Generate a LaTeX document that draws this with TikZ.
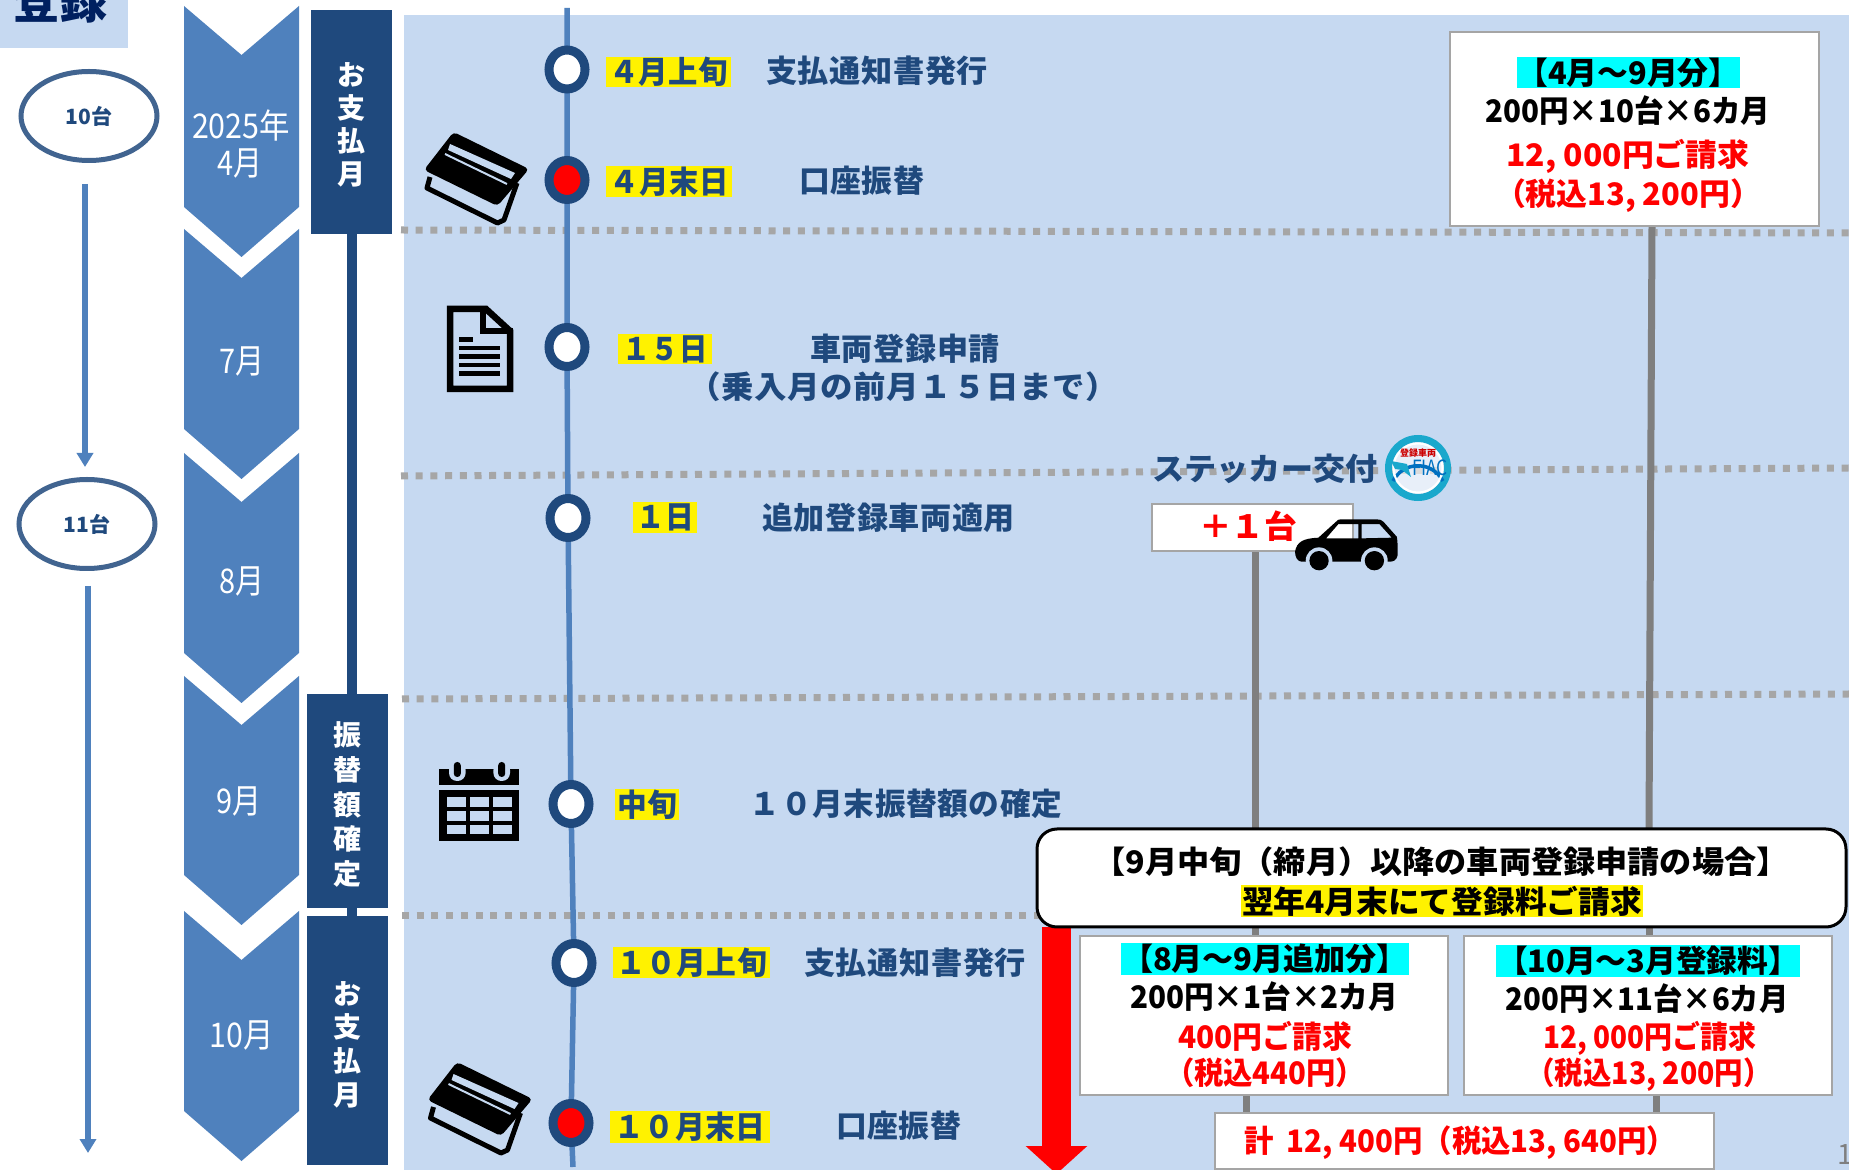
\documentclass[tikz,border=0pt]{standalone}
\usepackage{fontspec}
\setmainfont{Noto Sans CJK JP}
\newfontfamily\jpw[LetterSpace=2]{Noto Sans CJK JP}
\usetikzlibrary{shapes.geometric,arrows.meta,backgrounds}
\pgfdeclarelayer{back}\pgfdeclarelayer{mid}\pgfsetlayers{back,mid,main}
\definecolor{bgblue}{HTML}{C6D9F1}
\definecolor{navy}{HTML}{1F497D}
\definecolor{chev}{HTML}{4F81BD}
\definecolor{dkblue}{HTML}{002060}
\definecolor{dotg}{HTML}{A6A6A6}
\definecolor{stemg}{HTML}{7F7F7F}
\definecolor{aqua}{HTML}{00FFFF}
\definecolor{teal}{HTML}{1AA8CC}
\definecolor{fiac}{HTML}{0070C0}
\newcommand\fs[1]{\fontsize{#1}{#1}\selectfont}
\newcommand\fitw[2]{\resizebox{\dimexpr#1pt/2\relax}{\height}{#2}}
% chevron: #1 top side, #2 bottom side
\newcommand\chevron[2]{\fill[chev] (184,#1) -- (241.5,{#1+49}) -- (299,#1) -- (299,#2) -- (241.5,{#2+50}) -- (184,#2) -- cycle;}
% highlight: name x1 y1 x2 y2 fillcolour textwidth text
\newcommand\hlbox[8]{\node[hl,fill=#6,minimum width={(#4-#2)*0.5pt},minimum height={(#5-#3)*0.5pt}] (#1) at ({(#2+#4)/2},{(#3+#5)/2}) {\fitw{#7}{#8}};}
\tikzset{
 hl/.style={inner sep=0pt,outer sep=0pt,text=navy,font=\fs{15.5}\bfseries\jpw},
 txt/.style={inner sep=0pt,outer sep=0pt},
 nav/.style={inner sep=0pt,outer sep=0pt,text=navy,font=\fs{15.5}\bfseries\jpw},
 blk/.style={inner sep=0pt,outer sep=0pt,font=\fs{15.5}\bfseries},
 mon/.style={inner sep=0pt,outer sep=0pt,text=white,font=\fs{17}},
 vbox/.style={rectangle,fill=navy,inner sep=0pt,outer sep=0pt},
 vtext/.style={inner sep=0pt,outer sep=0pt,text=white,align=center},
 pt/.style={ellipse,draw=navy,line width=4.5pt,fill=white,minimum width=18pt,minimum height=19.5pt,inner sep=0pt,outer sep=0pt},
 ptred/.style={pt,fill=red},
 count/.style={ellipse,draw=navy!85!white,line width=2.5pt,fill=white,minimum width=68pt,minimum height=44.5pt,inner sep=0pt,outer sep=0pt,text=navy,font=\fs{10.5}\bfseries},
 wbox/.style={rectangle,draw=stemg!70!white,line width=1.25pt,fill=white,inner sep=0pt,outer sep=0pt},
 dots/.style={dotg,line width=3.5pt,dash pattern=on 3.5pt off 3.85pt},
 gline/.style={stemg,line width=3.5pt},
 tline/.style={chev,line width=2.75pt},
 stem/.style={navy,line width=5pt},
 flow/.style={chev,line width=3pt,-{Triangle[width=8pt,length=7pt]}},
 redarrow/.style={red,line width=14.5pt,-{Triangle[width=30pt,length=14pt]}},
}
\newcommand\card[2]{%
 \begin{scope}[shift={(#1,#2)}]
 \draw[black,line width=2.5pt,line join=round] (430,177) -- (427,188) -- (497.5,223) -- (504,220) -- (517,183);
 \fill[black,rounded corners=2pt] (453.5,132) -- (529,169) -- (497.5,206) -- (424,170) -- cycle;
 \fill[bgblue] (450,144) -- (515,173) -- (511,179) -- (448,150) -- cycle;
 \draw[bgblue,line width=1pt] (445,154) -- (507,184);
 \end{scope}}
\begin{document}
\begin{tikzpicture}[x=0.5pt,y=-0.5pt]
\useasboundingbox (0,0) rectangle (1849,1170);
\begin{pgfonlayer}{back}
 \fill[white] (0,0) rectangle (1849,1170);
 \fill[bgblue] (404,15) rectangle (1849,1170);
 \fill[bgblue] (0,0) rectangle (128,48);
\end{pgfonlayer}
% top-left heading
\node[txt,text=dkblue,font=\fs{25}\bfseries] (reg) at (60,0) {\fitw{96}{登録}};
% count ellipses
\node[count] (e1) at (89,116) {10台};
\node[count] (e2) at (87,524) {11台};
\coordinate (a1s) at (85,184); \coordinate (a1e) at (85,467);
\coordinate (a2s) at (88,586); \coordinate (a2e) at (88,1153);
\draw[flow] (a1s) -- (a1e);
\draw[flow] (a2s) -- (a2e);
% chevrons
\chevron{6}{207}
\chevron{229}{429}
\chevron{453}{653}
\chevron{676}{875}
\chevron{911}{1111}
\node[mon] (m1a) at (241,126) {\fitw{98}{2025年}};
\node[mon] (m1b) at (240,164) {\fitw{45}{4月}};
\node[mon] (m2) at (242,362) {\fitw{45}{7月}};
\node[mon] (m3) at (242,582) {\fitw{45}{8月}};
\node[mon] (m4) at (239,801) {\fitw{45}{9月}};
\node[mon] (m5) at (242,1035) {\fitw{64}{10月}};
% vertical boxes
\node[vbox,minimum width=40.5pt,minimum height=112pt] (pay1) at (351.5,122) {};
\node[vbox,minimum width=40.5pt,minimum height=107pt] (conf) at (347.5,801) {};
\node[vbox,minimum width=40.5pt,minimum height=124.5pt] (pay2) at (347.5,1040.5) {};
\node[vtext,font=\fontsize{14}{16.5}\selectfont\bfseries] (pay1t) at (351.5,124.5) {お\\支\\払\\月};
\node[vtext,font=\fontsize{14}{17.4}\selectfont\bfseries] (conft) at (347.5,804.5) {振\\替\\額\\確\\定};
\node[vtext,font=\fontsize{14}{16.8}\selectfont\bfseries] (pay2t) at (347.5,1044.5) {お\\支\\払\\月};
\coordinate (sx) at (352,0);
\begin{pgfonlayer}{mid}
 \draw[stem] (pay1.south -| sx) -- (conf.north -| sx);
 \draw[stem] (conf.south -| sx) -- (pay2.north -| sx);
\end{pgfonlayer}
% timeline points
\node[pt] (p1) at (567,69.5) {};
\node[ptred] (p2) at (567,180) {};
\node[pt] (p3) at (567,347) {};
\node[pt] (p4) at (568,518) {};
\node[pt] (p5) at (571,804) {};
\node[pt] (p6) at (574,963) {};
\node[ptred] (p7) at (571,1123) {};
\coordinate (tltop) at (567,8);
\coordinate (tlbot) at (573,1167);
\coordinate (d1a) at (401,230); \coordinate (d1b) at (1849,233);
\coordinate (d2a) at (401,476); \coordinate (d2b) at (1849,468);
\coordinate (d3a) at (402,699); \coordinate (d3b) at (1849,694);
\coordinate (d4a) at (402,916); \coordinate (d4b) at (1040,916);
\begin{pgfonlayer}{mid}
 \draw[dots] (d1a) -- (d1b);
 \draw[dots] (d2a) -- (d2b);
 \draw[dots] (d3a) -- (d3b);
 \draw[dots] (d4a) -- (d4b);
 \draw[tline] (tltop) -- (p1) -- (p2) -- (p3) -- (p4) -- (p5) -- (p6) -- (p7) -- (tlbot);
\end{pgfonlayer}
% labels
\hlbox{h1}{606}{57}{731}{87}{yellow}{119}{４月上旬}
\node[nav] (t1) at (877,71) {\fitw{222}{支払通知書発行}};
\hlbox{h2}{606}{166}{732}{197}{yellow}{119}{４月末日}
\node[nav] (t2) at (861.5,181) {\fitw{125}{口座振替}};
\hlbox{h3}{618}{334}{712}{364}{yellow}{86}{１５日}
\node[nav] (t3) at (905,349) {\fitw{190}{車両登録申請}};
\node[nav] (t3b) at (903,387) {\fitw{430}{（乗入月の前月１５日まで）}};
\hlbox{h4}{633}{502}{697}{533}{yellow}{58}{１日}
\node[nav] (t4) at (888.5,518) {\fitw{253}{追加登録車両適用}};
\hlbox{h5}{615}{789}{679}{820}{yellow}{60}{中旬}
\node[nav] (t5) at (906,804) {\fitw{312}{１０月末振替額の確定}};
\hlbox{h6}{613}{947}{770}{978}{yellow}{151}{１０月上旬}
\node[nav] (t6) at (915,963) {\fitw{222}{支払通知書発行}};
\hlbox{h7}{610}{1111}{770}{1143}{yellow}{151}{１０月末日}
\node[nav] (t7) at (898.5,1126) {\fitw{125}{口座振替}};
% icons
\card{0}{0}
\card{3.5}{930}
\draw[black,line width=3.25pt,line join=miter] (450,309) -- (486,309) -- (510,331) -- (510,389) -- (450,389) -- cycle;
\draw[black,line width=3.25pt] (483,306) -- (483,331) -- (513,331);
\draw[black,line width=2.25pt] (459,339.5) -- (473,339.5) (459,348) -- (500,348) (459,356.5) -- (500,356.5) (459,365) -- (500,365) (459,373.7) -- (500,373.7);
\fill[black] (439,769) rectangle (519,785);
\fill[bgblue,rounded corners=4pt] (449,762) rectangle (465.6,781);
\fill[bgblue,rounded corners=4pt] (493.4,762) rectangle (510,781);
\fill[black,rounded corners=1.7pt] (453.8,762) rectangle (460.8,777);
\fill[black,rounded corners=1.7pt] (498.2,762) rectangle (505.2,777);
\fill[black] (439,790) rectangle (519,841);
\foreach \xa/\xb in {446.7/465.7,470/489,493/512}
 \foreach \ya/\yb in {797/807,811/821,825/834}
  \fill[bgblue] (\xa,\ya) rectangle (\xb,\yb);
% sticker
\node[txt,text=navy,font=\fs{15.5}\bfseries] (st) at (1265,469) {\fitw{225}{ステッカー交付}};
\fill[white,opacity=0.6] (1418,468) circle (26);
\draw[teal,line width=3.5pt] (1418,468) circle (29.5);
\draw[fiac,line width=1.75pt] (1393,481) arc[start angle=207,end angle=333,radius=28];
\draw[white,line width=1pt] (1418,468) circle (24.5);
\node[txt,text=red!80!black,font=\fs{4.5}\bfseries] (bt) at (1418,453) {登録車両};
\node[txt,text=fiac,font=\fs{10.5}] (fiacname) at (1430,468) {\fitw{36}{FIAC}};
\fill[teal] (1391,461) -- (1407,464) -- (1411,477) -- (1402,470) -- (1395,469) -- cycle;
% +1
\node[wbox,minimum width=100.5pt,minimum height=23.5pt] (plus) at (1252.5,527.5) {};
\node[txt,text=red,font=\fs{16}\bfseries] (plust) at (1248,526) {\fitw{98}{＋１台}};
\begin{scope}[shift={(1100,420)},x=0.1667pt,y=-0.1667pt]
 \fill[black,even odd rule,line join=round] (585,395) .. controls (590,365) and (610,355) .. (655,353) -- (708,305) .. controls (712,300) and (715,298) .. (722,298) -- (830,298) .. controls (840,298) and (845,300) .. (850,305) -- (890,350) .. controls (893,360) and (893,395) .. (893,405) .. controls (890,420) and (880,425) .. (870,425) -- (605,425) .. controls (592,425) and (585,410) .. (585,395) -- cycle
 (678,355) -- (715,312) -- (775,312) -- (775,355) -- cycle
 (785,312) -- (838,312) -- (875,353) -- (785,355) -- cycle;
 \fill[bgblue] (657,422) circle (40);
 \fill[bgblue] (823,422) circle (40);
 \fill[black] (657,422) circle (29);
 \fill[black] (823,422) circle (29);
\end{scope}
% result boxes
\node[wbox,minimum width=184.5pt,minimum height=97pt] (btop) at (1634.5,129) {};
\hlbox{c1}{1517}{57}{1740}{88}{aqua}{222}{\fs{15.5}\bfseries\rmfamily\color{black}【4月～9月分】}
\node[blk] (b1) at (1628,111) {\fitw{285}{200円×10台×6カ月}};
\node[blk,text=red] (b2) at (1628,156) {\fitw{243}{12, 000円ご請求}};
\node[blk,text=red] (b3) at (1628,196) {\fitw{266}{（税込13, 200円）}};
\node[rectangle,rounded corners=10pt,draw=black,line width=1.5pt,fill=white,minimum width=404.5pt,minimum height=49pt,inner sep=0pt,outer sep=0pt] (note) at (1441.5,878) {};
\node[blk] (n1) at (1441,862) {\fitw{695}{【9月中旬（締月）以降の車両登録申請の場合】}};
\hlbox{h8}{1241}{885}{1643}{917}{yellow}{400}{\fs{15.5}\bfseries\rmfamily\color{black}翌年4月末にて登録料ご請求}
\node[wbox,minimum width=184pt,minimum height=79.5pt] (ba) at (1264,1015.5) {};
\hlbox{c2}{1121}{943}{1409}{975}{aqua}{286}{\fs{15.5}\bfseries\rmfamily\color{black}【8月～9月追加分】}
\node[blk] (a1) at (1264,997) {\fitw{268}{200円×1台×2カ月}};
\node[blk,text=red] (a2) at (1265,1036) {\fitw{174}{400円ご請求}};
\node[blk,text=red] (a3) at (1265,1073) {\fitw{200}{（税込440円）}};
\node[wbox,minimum width=184pt,minimum height=79.5pt] (bb) at (1648,1015.5) {};
\hlbox{c3}{1496}{945}{1800}{977}{aqua}{302}{\fs{15.5}\bfseries\rmfamily\color{black}【10月～3月登録料】}
\node[blk] (b4) at (1647,999) {\fitw{283}{200円×11台×6カ月}};
\node[blk,text=red] (b5) at (1650,1038) {\fitw{213}{12, 000円ご請求}};
\node[blk,text=red] (b6) at (1649,1075) {\fitw{245}{（税込13, 200円）}};
\node[wbox,minimum width=249.5pt,minimum height=28pt] (bc) at (1464.5,1141) {};
\node[blk,text=red] (c4) at (1460,1143) {\fitw{432}{計\ \ 12, 400円（税込13, 640円）}};
\node[txt,text=stemg,font=\fs{14}] (pg) at (1845,1155) {1};
% connectors
\coordinate (gxr) at (1652,0); \coordinate (gxr2) at (1649,0);
\coordinate (gxl) at (1255,0);
\coordinate (gxa) at (1246,0); \coordinate (gxb) at (1656,0);
\coordinate (rx) at (1056.5,0); \coordinate (rtip) at (1056.5,1174);
\begin{pgfonlayer}{mid}
 \draw[gline] (btop.south -| gxr) -- (note.north -| gxr2);
 \draw[gline] (note.south -| gxr2) -- (bb.north -| gxr2);
 \draw[gline] (plus.south -| gxl) -- (note.north -| gxl);
 \draw[gline] (note.south -| gxl) -- (ba.north -| gxl);
 \draw[gline] (ba.south -| gxa) -- (bc.north -| gxa);
 \draw[gline] (bb.south -| gxb) -- (bc.north -| gxb);
 \draw[redarrow] (note.south -| rx) -- (rtip);
\end{pgfonlayer}
\end{tikzpicture}
\end{document}
